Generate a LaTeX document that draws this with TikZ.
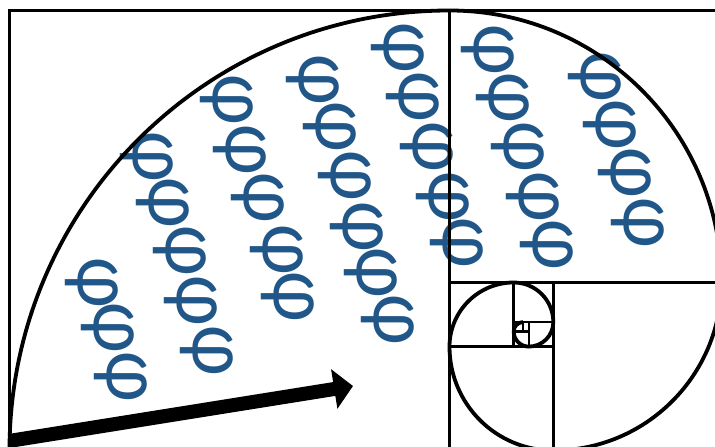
\documentclass[tikz,border=0pt]{standalone}
\usepackage{fontspec}
\newfontfamily\phifont[FakeStretch=0.95]{Carlito}
\usetikzlibrary{arrows.meta}
\definecolor{phiblue}{RGB}{33,86,136}
\tikzset{
  phisym/.style={font=\phifont\fontsize{82}{82}\selectfont, text=phiblue, rotate=-90, inner sep=0pt},
  frame/.style={line width=2.6pt, black},
  spiral/.style={line width=3.8pt, black},
  bigarrow/.style={line width=14pt, -{Triangle[length=19pt,width=39pt]}}
}
\begin{document}
\begin{tikzpicture}[x=1pt,y=1pt]
\useasboundingbox (0,0) rectangle (715,447);
\clip (0,0) rectangle (715,447);
\fill[white] (0,0) rectangle (715,447);
% phi symbols
\foreach \x/\y [count=\i] in {
  92/164, 108/119, 121/70,
  147/290, 163/244, 180/196, 191/146, 207/96,
  227/347, 240/297, 258/249, 277/197, 288/150,
  313/367, 330/320, 345/271, 357/220, 371/174, 388/127,
  398/399, 413/350, 427/300, 443/250, 457/204,
  488/397, 503/349, 518/300, 533/250, 547/202,
  595/370, 610/322, 625/274, 638/224}
  \node[phisym] (p\i) at (\x,\y) {φ};
% golden rectangle frame
\draw[frame] (9.5,-3.5) rectangle (721.4,436.5);
\draw[frame] (449.5,-3.5) -- (449.5,436.5);
\draw[frame] (449.5,164.6) -- (721.4,164.6);
\draw[frame] (553.3,-3.5) -- (553.3,164.6);
\draw[frame] (449.5,100.4) -- (553.3,100.4);
\draw[frame] (513.7,100.4) -- (513.7,164.6);
\draw[frame] (513.7,125.0) -- (553.3,125.0);
\draw[frame] (528.8,100.4) -- (528.8,125.0);
\draw[frame] (513.7,115.5) -- (528.8,115.5);
\draw[frame] (523.1,115.5) -- (523.1,125.0);
% spiral
\draw[spiral] (9.5,-3.5)
  arc[start angle=180, end angle=90, radius=440]
  arc[start angle=90, end angle=0, radius=271.9]
  arc[start angle=0, end angle=-90, radius=168.1]
  arc[start angle=-90, end angle=-180, radius=103.8]
  arc[start angle=180, end angle=90, radius=64.2]
  arc[start angle=90, end angle=0, radius=39.6]
  arc[start angle=0, end angle=-90, radius=24.5]
  arc[start angle=-90, end angle=-180, radius=15.1]
  arc[start angle=180, end angle=90, radius=9.4];
% arrow
\coordinate (a0) at (9,6);
\coordinate (a1) at (353,61);
\draw[bigarrow] (a0) -- (a1);
\end{tikzpicture}
\end{document}
